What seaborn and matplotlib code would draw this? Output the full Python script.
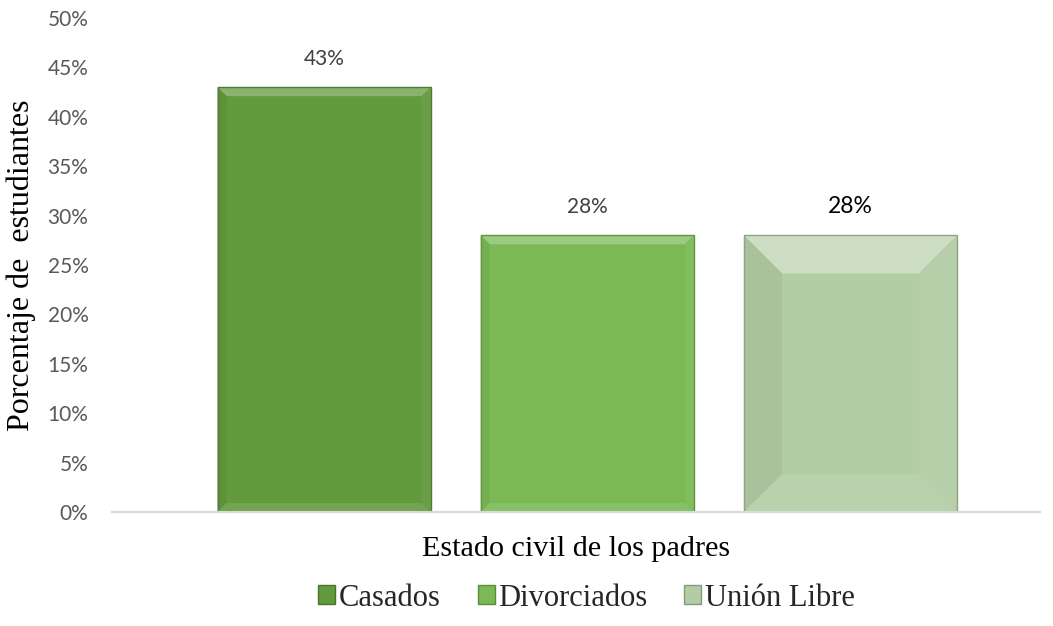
import matplotlib
matplotlib.use("Agg")
import matplotlib.pyplot as plt
import seaborn as sns
import pandas as pd
from matplotlib.patches import Polygon, Patch
from matplotlib.ticker import PercentFormatter

categories = ["Casados", "Divorciados", "Unión Libre"]
values = [43, 28, 28]
colors = ["#629A3E", "#7AB954", "#B2CCA4"]
labels = ["43%", "28%", "28%"]

df = pd.DataFrame({"estado": categories, "pct": values})

sns.set_theme(style="white")
plt.rcParams["font.family"] = ["Lato", "DejaVu Sans"]

fig = plt.figure(figsize=(10.53, 6.26), dpi=100)
ax = fig.add_axes([112 / 1053, 1 - 512 / 626, 928 / 1053, 494 / 626])

sns.barplot(data=df, x="estado", y="pct", hue="estado", palette=colors,
            width=0.81, legend=False, ax=ax, saturation=1)


def lighten(c, f):
    r, g, b = matplotlib.colors.to_rgb(c)
    return (r + (1 - r) * f, g + (1 - g) * f, b + (1 - b) * f)


def darken(c, f):
    r, g, b = matplotlib.colors.to_rgb(c)
    return (r * (1 - f), g * (1 - f), b * (1 - f))


def bevel(ax, p, dpx, color, top_light):
    # bevel size given in pixels, converted into data units
    x0, y0 = p.get_x(), p.get_y()
    x1, y1 = x0 + p.get_width(), y0 + p.get_height()
    inv = ax.transData.inverted()
    ox, oy = ax.transData.transform((x0, y0))
    ddx = inv.transform((ox + dpx, oy))[0] - x0
    ddy = inv.transform((ox, oy + dpx))[1] - y0
    faces = [
        ([(x0, y1), (x1, y1), (x1 - ddx, y1 - ddy), (x0 + ddx, y1 - ddy)], lighten(color, top_light)),
        ([(x0, y0), (x0, y1), (x0 + ddx, y1 - ddy), (x0 + ddx, y0 + ddy)], darken(color, 0.05)),
        ([(x1, y0), (x1, y1), (x1 - ddx, y1 - ddy), (x1 - ddx, y0 + ddy)], lighten(color, 0.05)),
        ([(x0, y0), (x1, y0), (x1 - ddx, y0 + ddy), (x0 + ddx, y0 + ddy)], lighten(color, 0.1)),
    ]
    for pts, fc in faces:
        ax.add_patch(Polygon(pts, closed=True, facecolor=fc, edgecolor="none", zorder=p.get_zorder() + 0.1))
    ax.add_patch(Polygon([(x0, y0), (x0, y1), (x1, y1), (x1, y0)], closed=True, fill=False,
                         edgecolor=darken(color, 0.2), linewidth=1.0, zorder=p.get_zorder() + 0.2))


ax.set_xlim(-0.806, 2.72)
ax.set_ylim(0, 50)

for i, p in enumerate(ax.patches[:3]):
    bevel(ax, p, 9 if i < 2 else 38, colors[i], 0.25 if i < 2 else 0.35)

for i, p in enumerate(ax.patches[:3]):
    cx = p.get_x() + p.get_width() / 2
    ax.annotate(labels[i], (cx, p.get_height()), xytext=(0, 13), textcoords="offset points",
                ha="center", va="bottom", fontsize=15 if i < 2 else 16.5,
                color="#404040" if i < 2 else "black")

ax.yaxis.set_major_locator(matplotlib.ticker.MultipleLocator(5))
ax.yaxis.set_major_formatter(PercentFormatter(decimals=0))
ax.tick_params(axis="y", labelsize=15, labelcolor="#595959", length=0, pad=17)
ax.set_xticks([])
for s in ["top", "right", "left"]:
    ax.spines[s].set_visible(False)
ax.spines["bottom"].set_color("#D9D9D9")
ax.spines["bottom"].set_linewidth(1.5)

serif = ["Liberation Serif", "DejaVu Serif"]
ax.set_ylabel("Porcentaje de  estudiantes", fontsize=23, family=serif, color="black", labelpad=8)
ax.set_xlabel("Estado civil de los padres", fontsize=21.7, family=serif, color="black", labelpad=17)

handles = [Patch(facecolor=colors[i], edgecolor=darken(colors[i], 0.25)) for i in range(3)]
fig.legend(handles, categories, loc="center", bbox_to_anchor=(0.557, 1 - 598 / 626), ncol=3,
           frameon=False, prop={"family": serif, "size": 22}, handlelength=0.56, handleheight=0.56,
           handletextpad=0.12, columnspacing=1.2)

fig.savefig("out.png", dpi=100)
